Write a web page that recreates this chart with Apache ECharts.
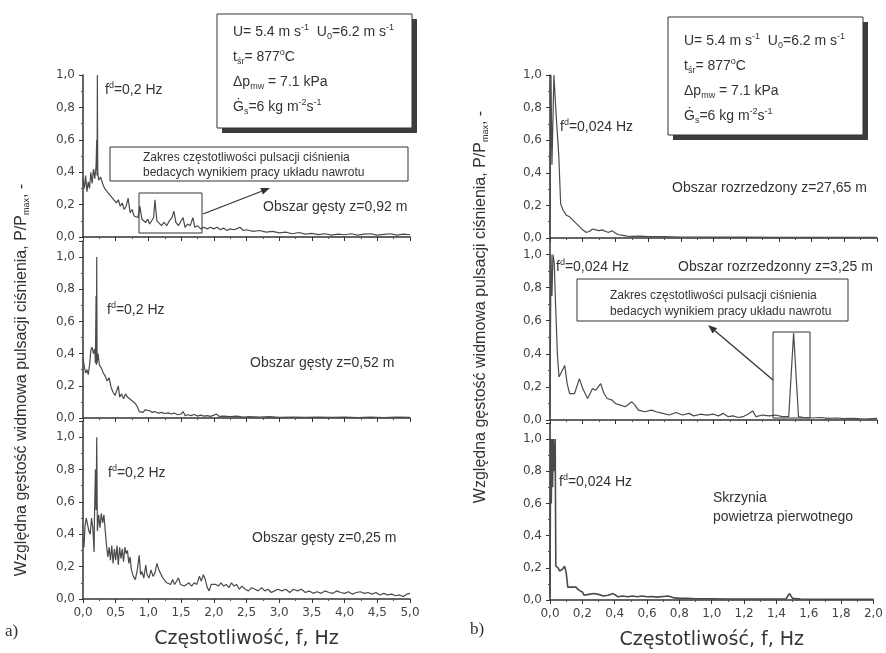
<!DOCTYPE html>
<html>
<head>
<meta charset="utf-8">
<script src="https://cdn.jsdelivr.net/npm/echarts@6.0.0/dist/echarts.min.js"></script>
<style>
  html, body { margin: 0; padding: 0; background: #fff; }
  #chart { width: 886px; height: 653px; }
</style>
</head>
<body>
<div id="chart"></div>
<script>
// a) dense zone, f in Hz vs P/Pmax
const gestyZ092 = [[0.00,0.36],[0.02,0.30],[0.04,0.38],[0.06,0.28],[0.08,0.34],[0.10,0.30],[0.12,0.40],[0.14,0.33],[0.16,0.42],[0.18,0.36],[0.20,0.44],[0.21,0.60],[0.215,0.38],[0.22,1.00],[0.225,0.40],[0.24,0.35],[0.27,0.37],[0.30,0.33],[0.33,0.30],[0.36,0.31],[0.39,0.27],[0.42,0.28],[0.45,0.24],[0.48,0.25],[0.51,0.21],[0.54,0.23],[0.57,0.19],[0.60,0.21],[0.63,0.17],[0.66,0.19],[0.69,0.24],[0.72,0.15],[0.75,0.17],[0.78,0.13],[0.81,0.14],[0.84,0.12],[0.87,0.19],[0.90,0.11],[0.93,0.12],[0.96,0.09],[0.99,0.11],[1.02,0.08],[1.05,0.10],[1.08,0.12],[1.10,0.23],[1.13,0.10],[1.16,0.11],[1.20,0.07],[1.24,0.09],[1.28,0.07],[1.32,0.10],[1.36,0.12],[1.39,0.16],[1.42,0.09],[1.46,0.07],[1.50,0.10],[1.53,0.12],[1.56,0.06],[1.60,0.08],[1.64,0.07],[1.68,0.12],[1.71,0.06],[1.75,0.07],[1.80,0.05],[1.85,0.06],[1.90,0.05],[1.95,0.06],[2.00,0.05],[2.05,0.06],[2.10,0.045],[2.15,0.055],[2.20,0.04],[2.25,0.05],[2.30,0.045],[2.35,0.05],[2.40,0.06],[2.45,0.04],[2.50,0.045],[2.60,0.035],[2.70,0.04],[2.80,0.03],[2.90,0.035],[3.00,0.025],[3.10,0.03],[3.20,0.02],[3.30,0.028],[3.40,0.018],[3.50,0.022],[3.60,0.015],[3.70,0.02],[3.80,0.012],[3.90,0.018],[4.00,0.014],[4.10,0.02],[4.20,0.012],[4.30,0.018],[4.40,0.02],[4.50,0.012],[4.60,0.016],[4.70,0.02],[4.80,0.012],[4.90,0.018],[5.00,0.014]];

const gestyZ052 = [[0.00,0.37],[0.02,0.32],[0.04,0.28],[0.06,0.30],[0.08,0.27],[0.10,0.33],[0.12,0.42],[0.14,0.44],[0.16,0.40],[0.18,0.43],[0.19,0.34],[0.20,0.76],[0.205,0.33],[0.21,1.00],[0.215,0.34],[0.23,0.40],[0.25,0.33],[0.28,0.31],[0.31,0.28],[0.34,0.26],[0.37,0.23],[0.40,0.25],[0.43,0.19],[0.46,0.16],[0.49,0.14],[0.52,0.15],[0.54,0.20],[0.56,0.13],[0.59,0.15],[0.62,0.12],[0.65,0.15],[0.68,0.13],[0.71,0.14],[0.74,0.11],[0.77,0.12],[0.80,0.09],[0.83,0.07],[0.86,0.04],[0.89,0.05],[0.92,0.035],[0.95,0.05],[0.98,0.04],[1.02,0.045],[1.06,0.035],[1.10,0.04],[1.15,0.03],[1.20,0.035],[1.25,0.028],[1.30,0.032],[1.35,0.025],[1.40,0.03],[1.45,0.02],[1.50,0.025],[1.53,0.04],[1.56,0.015],[1.60,0.02],[1.65,0.015],[1.70,0.022],[1.75,0.012],[1.80,0.018],[1.85,0.012],[1.90,0.015],[1.95,0.01],[2.00,0.018],[2.04,0.025],[2.08,0.01],[2.15,0.012],[2.25,0.008],[2.35,0.012],[2.45,0.006],[2.55,0.008],[2.70,0.005],[2.85,0.008],[3.00,0.004],[3.20,0.006],[3.40,0.004],[3.60,0.006],[3.80,0.004],[4.00,0.005],[4.20,0.003],[4.40,0.005],[4.60,0.003],[4.80,0.005],[5.00,0.004]];

const gestyZ025 = [[0.00,0.38],[0.015,0.32],[0.03,0.45],[0.05,0.50],[0.07,0.51],[0.09,0.42],[0.11,0.40],[0.13,0.50],[0.15,0.44],[0.17,0.29],[0.175,0.50],[0.19,0.80],[0.20,0.55],[0.21,1.00],[0.22,0.42],[0.24,0.52],[0.26,0.44],[0.28,0.53],[0.30,0.47],[0.32,0.52],[0.34,0.42],[0.36,0.33],[0.38,0.26],[0.40,0.32],[0.42,0.24],[0.44,0.33],[0.46,0.22],[0.48,0.31],[0.50,0.24],[0.52,0.33],[0.54,0.21],[0.56,0.32],[0.58,0.25],[0.60,0.31],[0.62,0.23],[0.64,0.32],[0.66,0.28],[0.68,0.30],[0.70,0.22],[0.72,0.26],[0.74,0.18],[0.77,0.14],[0.80,0.12],[0.83,0.18],[0.86,0.27],[0.88,0.15],[0.90,0.17],[0.93,0.13],[0.96,0.21],[0.98,0.15],[1.01,0.13],[1.04,0.18],[1.07,0.14],[1.10,0.16],[1.13,0.22],[1.16,0.18],[1.19,0.19],[1.22,0.13],[1.25,0.12],[1.28,0.10],[1.31,0.11],[1.34,0.09],[1.37,0.12],[1.40,0.09],[1.43,0.10],[1.46,0.13],[1.49,0.09],[1.52,0.10],[1.55,0.08],[1.58,0.09],[1.62,0.10],[1.66,0.08],[1.70,0.10],[1.74,0.09],[1.78,0.14],[1.81,0.11],[1.84,0.15],[1.87,0.12],[1.90,0.07],[1.93,0.05],[1.96,0.09],[1.99,0.08],[2.03,0.09],[2.07,0.08],[2.11,0.10],[2.15,0.08],[2.19,0.09],[2.23,0.07],[2.27,0.10],[2.31,0.08],[2.35,0.09],[2.39,0.06],[2.43,0.08],[2.48,0.06],[2.53,0.05],[2.58,0.07],[2.63,0.06],[2.68,0.05],[2.73,0.07],[2.78,0.05],[2.83,0.06],[2.88,0.04],[2.93,0.05],[2.98,0.06],[3.04,0.05],[3.10,0.06],[3.16,0.04],[3.22,0.06],[3.28,0.05],[3.34,0.06],[3.40,0.04],[3.46,0.05],[3.52,0.035],[3.58,0.045],[3.64,0.035],[3.70,0.05],[3.76,0.04],[3.82,0.035],[3.88,0.05],[3.94,0.04],[4.00,0.035],[4.06,0.045],[4.12,0.03],[4.18,0.04],[4.24,0.045],[4.30,0.035],[4.36,0.04],[4.42,0.03],[4.48,0.04],[4.54,0.025],[4.60,0.035],[4.66,0.025],[4.72,0.03],[4.78,0.02],[4.84,0.025],[4.90,0.015],[4.95,0.03],[5.00,0.035]];

// b) dilute zone and primary air box
const rozrzZ2765 = [[0.000,0.02],[0.006,1.00],[0.012,0.45],[0.024,1.00],[0.036,0.78],[0.054,0.50],[0.065,0.21],[0.08,0.17],[0.10,0.14],[0.12,0.13],[0.14,0.11],[0.16,0.09],[0.18,0.07],[0.20,0.05],[0.22,0.035],[0.24,0.04],[0.26,0.055],[0.28,0.05],[0.30,0.045],[0.32,0.05],[0.34,0.04],[0.36,0.035],[0.38,0.045],[0.40,0.03],[0.42,0.02],[0.44,0.018],[0.47,0.012],[0.50,0.01],[0.55,0.012],[0.60,0.008],[0.70,0.008],[0.80,0.006],[0.90,0.006],[1.00,0.005],[1.20,0.005],[1.40,0.004],[1.60,0.004],[1.80,0.004],[2.00,0.004]];

const rozrzZ325 = [[0.000,0.02],[0.006,1.00],[0.012,0.75],[0.018,1.00],[0.026,0.95],[0.034,0.70],[0.045,0.40],[0.055,0.26],[0.065,0.28],[0.09,0.33],[0.105,0.22],[0.12,0.16],[0.15,0.16],[0.18,0.25],[0.20,0.19],[0.23,0.13],[0.26,0.19],[0.28,0.18],[0.31,0.22],[0.33,0.16],[0.35,0.13],[0.38,0.12],[0.40,0.10],[0.43,0.09],[0.46,0.08],[0.50,0.11],[0.52,0.09],[0.54,0.06],[0.58,0.05],[0.62,0.06],[0.65,0.05],[0.69,0.04],[0.73,0.03],[0.77,0.045],[0.81,0.03],[0.85,0.04],[0.88,0.025],[0.92,0.035],[0.96,0.03],[1.00,0.035],[1.03,0.025],[1.06,0.04],[1.09,0.02],[1.12,0.025],[1.15,0.015],[1.18,0.02],[1.21,0.035],[1.24,0.055],[1.26,0.02],[1.30,0.03],[1.34,0.025],[1.38,0.03],[1.42,0.02],[1.46,0.02],[1.49,0.525],[1.52,0.02],[1.55,0.015],[1.60,0.012],[1.65,0.015],[1.70,0.01],[1.75,0.012],[1.80,0.008],[1.86,0.01],[1.92,0.006],[2.00,0.01]];

const skrzynia = [[0.000,0.02],[0.004,1.00],[0.008,0.60],[0.012,1.00],[0.016,0.70],[0.020,1.00],[0.026,0.80],[0.032,1.00],[0.036,0.21],[0.05,0.20],[0.06,0.18],[0.075,0.19],[0.09,0.21],[0.10,0.17],[0.11,0.08],[0.13,0.08],[0.16,0.08],[0.18,0.06],[0.20,0.05],[0.21,0.03],[0.24,0.035],[0.27,0.04],[0.30,0.035],[0.33,0.025],[0.36,0.03],[0.39,0.04],[0.42,0.02],[0.45,0.025],[0.48,0.02],[0.51,0.025],[0.54,0.02],[0.57,0.025],[0.60,0.02],[0.63,0.022],[0.66,0.018],[0.70,0.022],[0.73,0.025],[0.76,0.015],[0.80,0.01],[0.85,0.01],[0.90,0.008],[1.00,0.008],[1.10,0.006],[1.20,0.006],[1.30,0.006],[1.40,0.006],[1.46,0.008],[1.48,0.04],[1.50,0.01],[1.55,0.006],[1.70,0.005],[1.85,0.005],[2.00,0.005]];

const panels = [gestyZ092, gestyZ052, gestyZ025, rozrzZ2765, rozrzZ325, skrzynia];

const FONT = 'Liberation Sans';
const TXT = '#333';

let chart = echarts.init(document.getElementById('chart'));

function fmt(v) {
  const k = v / 0.2;
  if (Math.abs(k - Math.round(k)) > 1e-6) return '';
  return v.toFixed(1).replace('.', ',');
}

function yAx(i, max) {
  return {
    type: 'value', gridIndex: i, min: 0, max: max, interval: 0.2,
    axisLine: {show: true, lineStyle: {color: '#333', width: 1.5}},
    axisTick: {show: true, length: 4, lineStyle: {color: '#333'}},
    minorTick: {show: true, splitNumber: 2, length: 2, lineStyle: {color: '#555'}},
    splitLine: {show: false},
    axisLabel: {fontFamily: 'DejaVu Sans', fontSize: 12, color: '#444', margin: 8, formatter: fmt}
  };
}

function xAx(i, max, step, labels) {
  const ax = {
    type: 'value', gridIndex: i, min: 0, max: max, interval: step,
    axisLine: {show: true, onZero: false, lineStyle: {color: '#333', width: 1.5}},
    axisTick: {show: true, length: 4, lineStyle: {color: '#333'}},
    minorTick: {show: true, splitNumber: 2, length: 2, lineStyle: {color: '#555'}},
    splitLine: {show: false},
    axisLabel: {show: labels, fontFamily: 'DejaVu Sans', fontSize: 12, color: '#444', margin: 8,
      formatter: v => v.toFixed(1).replace('.', ',')}
  };
  if (labels) {
    ax.name = 'Częstotliwość, f, Hz';
    ax.nameLocation = 'middle';
    ax.nameGap = 31;
    ax.nameTextStyle = {fontFamily: 'DejaVu Sans', fontSize: 19, color: TXT};
  }
  return ax;
}

const supsub = {
  sup: {fontSize: 9, verticalAlign: 'top', fontFamily: FONT, fill: TXT, lineHeight: 18},
  sub: {fontSize: 9, verticalAlign: 'bottom', fontFamily: FONT, fill: TXT, lineHeight: 18}
};

function label(x, y, text, size, extra) {
  return Object.assign({
    type: 'text', x: x, y: y, z: 100,
    style: {text: text, fontFamily: FONT, fontSize: size || 14, fill: TXT,
      align: 'left', verticalAlign: 'middle', lineHeight: 18, rich: supsub}
  }, extra || {});
}

function arrow(x1, y1, x2, y2) {
  const dx = x2 - x1, dy = y2 - y1, L = Math.sqrt(dx * dx + dy * dy);
  const ux = dx / L, uy = dy / L, bx = x2 - 9 * ux, by = y2 - 9 * uy;
  return [
    {type: 'line', z: 100, shape: {x1: x1, y1: y1, x2: bx, y2: by}, style: {stroke: '#333', lineWidth: 1.3}},
    {type: 'polygon', z: 100, shape: {points: [[x2, y2], [bx - 3.5 * uy, by + 3.5 * ux], [bx + 3.5 * uy, by - 3.5 * ux]]},
      style: {fill: '#333'}}
  ];
}

function paramBox(x, y, w, h, ty) {
  return [
    {type: 'rect', z: 90, shape: {x: x + 5, y: y + 5, width: w, height: h}, style: {fill: '#3c3c3c'}},
    {type: 'rect', z: 91, shape: {x: x, y: y, width: w, height: h}, style: {fill: '#fff', stroke: '#333', lineWidth: 1}},
    label(x + 16, ty, 'U= 5.4 m s{sup|-1}  U{sub|0}=6.2 m s{sup|-1}', 14),
    label(x + 16, ty + 25, 't{sub|śr}= 877{sup|o}C', 14),
    label(x + 16, ty + 50, 'Δp{sub|mw} = 7.1 kPa', 14),
    label(x + 16, ty + 75, 'Ġ{sub|s}=6 kg m{sup|-2}s{sup|-1}', 14)
  ];
}

const ytitle = 'Względna gęstość widmowa pulsacji ciśnienia, P/P{sub|max}, -';

const graphics = [].concat(
  paramBox(217, 14, 195, 114, 32),
  paramBox(668, 17, 195, 118, 41),
  [
    // left: recirculation-frequency note
    {type: 'rect', z: 95, shape: {x: 110, y: 147, width: 298, height: 34}, style: {fill: '#fff', stroke: '#333', lineWidth: 1}},
    label(143, 158, 'Zakres częstotliwości pulsacji ciśnienia', 12),
    label(143, 173, 'bedacych wynikiem pracy układu nawrotu', 12),
    {type: 'rect', z: 95, shape: {x: 139, y: 193, width: 63, height: 40}, style: {fill: 'none', stroke: '#333', lineWidth: 1}},
    // right: recirculation-frequency note
    {type: 'rect', z: 95, shape: {x: 577, y: 279, width: 271, height: 42}, style: {fill: '#fff', stroke: '#333', lineWidth: 1}},
    label(610, 296, 'Zakres częstotliwości pulsacji ciśnienia', 12),
    label(610, 312, 'bedacych wynikiem pracy układu nawrotu', 12),
    {type: 'rect', z: 95, shape: {x: 773, y: 332, width: 37, height: 86}, style: {fill: 'none', stroke: '#333', lineWidth: 1}},
    // panel captions
    label(105, 90, 'f{sup|d}=0,2 Hz'),
    label(263, 207, 'Obszar gęsty z=0,92 m'),
    label(107, 310, 'f{sup|d}=0,2 Hz'),
    label(250, 363, 'Obszar gęsty z=0,52 m'),
    label(108, 473, 'f{sup|d}=0,2 Hz'),
    label(252, 538, 'Obszar gęsty z=0,25 m'),
    label(560, 127, 'f{sup|d}=0,024 Hz'),
    label(672, 188, 'Obszar rozrzedzony z=27,65 m'),
    label(556, 267, 'f{sup|d}=0,024 Hz'),
    label(678, 267, 'Obszar rozrzedzonny z=3,25 m'),
    label(559, 482, 'f{sup|d}=0,024 Hz'),
    label(713, 498, 'Skrzynia'),
    label(713, 517, 'powietrza pierwotnego'),
    // y titles
    label(22, 380, ytitle, 16, {rotation: Math.PI / 2}),
    label(481, 307, ytitle, 16, {rotation: Math.PI / 2}),
    // panel letters
    {type: 'text', x: 5, y: 632, z: 100, style: {text: 'a)', fontFamily: 'Liberation Serif', fontSize: 17, fill: TXT, verticalAlign: 'middle'}},
    {type: 'text', x: 470, y: 630, z: 100, style: {text: 'b)', fontFamily: 'Liberation Serif', fontSize: 17, fill: TXT, verticalAlign: 'middle'}}
  ],
  arrow(203, 214, 270, 188),
  arrow(773, 380, 708, 325)
);
graphics.forEach(g => { if (g.type === 'text' && g.rotation) { g.style.align = 'center'; } });

const option = {
  animation: false,
  backgroundColor: '#fff',
  grid: [
    {left: 83, top: 75, width: 327, height: 162},
    {left: 83, top: 241, width: 327, height: 177},
    {left: 83, top: 421, width: 327, height: 178},
    {left: 550, top: 75, width: 327, height: 163},
    {left: 550, top: 238, width: 327, height: 182},
    {left: 550, top: 423, width: 327, height: 177}
  ],
  xAxis: [
    xAx(0, 5, 0.5, false), xAx(1, 5, 0.5, false), xAx(2, 5, 0.5, true),
    xAx(3, 2, 0.2, false), xAx(4, 2, 0.2, false), xAx(5, 2, 0.2, true)
  ],
  yAxis: [yAx(0, 1), yAx(1, 1.1), yAx(2, 1.1), yAx(3, 1), yAx(4, 1.1), yAx(5, 1.1)],
  series: panels.map((d, i) => ({
    type: 'line', xAxisIndex: i, yAxisIndex: i, data: d,
    showSymbol: false, symbol: 'none',
    lineStyle: {color: '#4a4a4a', width: i === 5 ? 1.6 : 1.2}
  })),
  graphic: graphics
};

chart.setOption(option);
window.addEventListener('resize', function () { chart.resize(); });
</script>
</body>
</html>
